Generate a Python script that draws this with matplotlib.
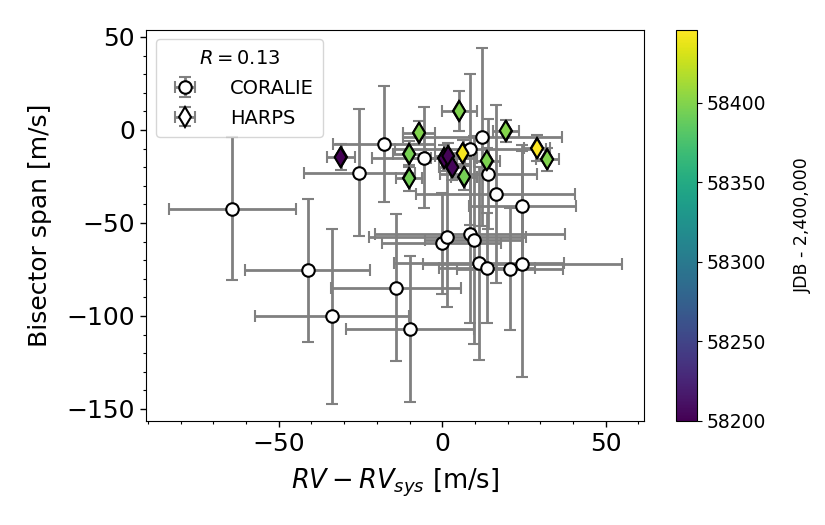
import numpy as np
import matplotlib
matplotlib.use("Agg")
import matplotlib.pyplot as plt
from matplotlib.ticker import MultipleLocator

# CORALIE data
cor_rv = [-64.2, -17.8, -25.4, -41.2, -33.7, -14.2, -9.9, -5.5, -0.2, 1.5, 8.5, 9.7,
          11.2, 13.6, 20.7, 24.5, 16.4, 24.5, 8.6, 12.2, 14.1]
cor_bis = [-42.3, -7.5, -22.9, -75.4, -100.2, -84.8, -107.0, -14.9, -61.0, -57.3, -56.0, -59.1,
           -71.7, -74.4, -74.7, -72.0, -34.4, -41.1, -10.4, -3.6, -23.8]
cor_rv_err = [19.4, 15.7, 17.0, 19.2, 23.6, 19.8, 19.5, 16.0, 18.3, 24.0, 29.0, 15.0,
              26.0, 14.7, 16.3, 30.4, 24.3, 16.4, 23.0, 24.3, 14.8]
cor_bis_err = [38.5, 31.0, 34.0, 38.5, 47.0, 39.5, 39.0, 27.0, 27.0, 37.7, 48.0, 56.0,
               52.0, 29.6, 32.6, 60.6, 48.0, 33.0, 40.5, 47.8, 29.6]

# HARPS data
har_rv = [-31.1, 5.2, -7.1, 19.4, -10.1, 0.6, 1.8, 3.1, 6.2, 13.6, 6.7, -10.1, 29.0, 32.1]
har_bis = [-14.7, 10.2, -1.4, -0.4, -12.9, -15.2, -14.0, -20.1, -12.5, -16.5, -25.1, -26.0, -9.9, -15.8]
har_rv_err = [4.3, 5.4, 5.0, 4.0, 5.0, 4.0, 4.0, 4.0, 4.0, 4.0, 4.0, 4.0, 4.0, 3.5]
har_bis_err = [7.0, 10.5, 6.0, 6.0, 7.0, 7.0, 7.0, 7.0, 7.0, 7.0, 7.0, 7.0, 7.0, 6.0]
har_jdb = [58200.0, 58398.0, 58399.0, 58400.0, 58396.0, 58201.5, 58202.5, 58203.5,
           58443.0, 58397.0, 58395.0, 58394.0, 58446.0, 58399.5]

corr_label = r"$R = 0.13$"

fig = plt.figure(figsize=(8.25, 5.25), dpi=100)
ax = fig.add_axes([0.177, 0.1987, 0.604, 0.7447])
cax = fig.add_axes([0.8194, 0.1987, 0.0255, 0.7447])

ebkw = dict(ecolor="gray", elinewidth=2, capsize=4.5, capthick=2, linestyle="none")
cor = ax.errorbar(cor_rv, cor_bis, xerr=cor_rv_err, yerr=cor_bis_err, fmt="o",
                  mfc="white", mec="black", mew=1.5, ms=9, label="CORALIE", zorder=2, **ebkw)
cor[0].set_zorder(3.5)
har = ax.errorbar(har_rv, har_bis, xerr=har_rv_err, yerr=har_bis_err, fmt="d",
                  mfc="white", mec="black", mew=1.5, ms=10, label="HARPS", zorder=3, **ebkw)
sc = ax.scatter(har_rv, har_bis, c=har_jdb, cmap="viridis", marker="d", s=100,
                edgecolors="black", linewidths=1.5, zorder=4,
                vmin=min(har_jdb), vmax=max(har_jdb))

ax.set_xlim(-90.6, 61.8)
ax.set_ylim(-156.3, 53.9)
ax.xaxis.set_major_locator(MultipleLocator(50))
ax.xaxis.set_minor_locator(MultipleLocator(10))
ax.yaxis.set_major_locator(MultipleLocator(50))
ax.yaxis.set_minor_locator(MultipleLocator(10))
ax.tick_params(which="major", labelsize=18, length=4.5, width=1)
ax.tick_params(which="minor", length=2.5, width=0.8)
ax.set_xlabel(r"$RV - RV_{sys}$ [m/s]", fontsize=18.5, labelpad=8)
ax.set_ylabel("Bisector span [m/s]", fontsize=18, labelpad=10)

leg = ax.legend(loc="upper left", fontsize=14, title=corr_label, title_fontsize=14,
                handletextpad=1.3, borderpad=0.5, labelspacing=0.55)

cb = fig.colorbar(sc, cax=cax)
cb.set_ticks([58200, 58250, 58300, 58350, 58400])
cb.ax.tick_params(labelsize=13.5)
cb.set_label("JDB - 2,400,000", fontsize=12.5, labelpad=20)

fig.savefig("out.png", dpi=100)
